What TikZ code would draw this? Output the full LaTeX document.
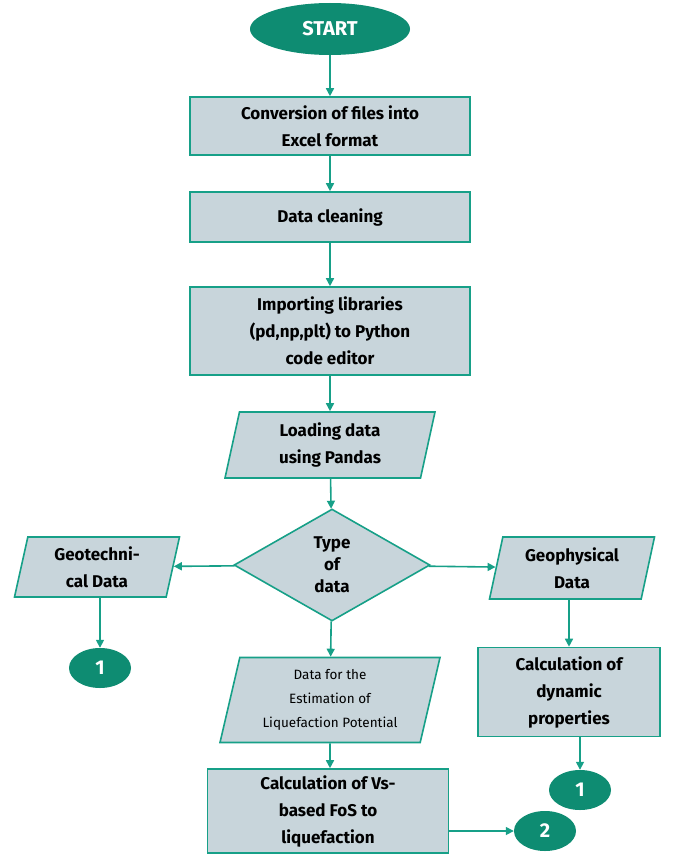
\documentclass[tikz,border=0pt]{standalone}
\usepackage{fontspec}
\setmainfont{Fira Sans}
\usetikzlibrary{shapes.geometric,arrows.meta}
\definecolor{tl}{HTML}{17A088}
\definecolor{dk}{HTML}{0E8C72}
\definecolor{bx}{HTML}{C8D5DB}
\begin{document}
\begin{tikzpicture}[x=1pt,y=-1pt,
  box/.style={draw=tl,line width=1.6pt,fill=bx,align=center,font=\fontsize{17}{27}\selectfont\bfseries,inner sep=0pt},
  para/.style={box,trapezium,trapezium left angle=72,trapezium right angle=108,trapezium stretches body},
  term/.style={ellipse,fill=dk,text=white,font=\fontsize{20}{24}\selectfont\bfseries,inner sep=0pt},
  arr/.style={draw=tl,line width=1.6pt,-{Triangle[length=8pt,width=8pt]}}]
\useasboundingbox (0,0) rectangle (685,859);
\node[term,minimum width=160pt,minimum height=52pt] (s) at (330,29) {START};
\node[box,minimum width=280pt,minimum height=58pt] (b1) at (330,126) {Conversion of files into\\Excel format};
\node[box,minimum width=280pt,minimum height=50pt] (b2) at (330,217) {Data cleaning};
\node[box,minimum width=280pt,minimum height=88pt] (b3) at (330,331) {Importing libraries\\(pd,np,plt) to Python\\code editor};
\node[para,minimum width=210pt,minimum height=66pt] (p4) at (330,445) {Loading data\\using Pandas};
\node[box,diamond,aspect=1.75,minimum width=196pt,minimum height=112pt,font=\fontsize{17}{22}\selectfont\bfseries] (d) at (332,565) {Type\\of\\data};
\node[para,minimum width=165pt,minimum height=60pt] (pl) at (97,567) {Geotechni-\\cal Data};
\node[term,minimum width=62pt,minimum height=40pt] (c1) at (100,668) {1};
\node[para,minimum width=165pt,minimum height=62pt] (pr) at (572,568) {Geophysical\\Data};
\node[box,minimum width=182pt,minimum height=89pt] (br) at (569,692) {Calculation of\\dynamic\\properties};
\node[term,minimum width=62pt,minimum height=40pt] (c2) at (580,790) {1};
\node[para,minimum width=220pt,minimum height=85pt,font=\fontsize{13.5}{24}\selectfont] (pm) at (330,700) {Data for the\\Estimation of\\Liquefaction Potential};
\node[box,minimum width=241pt,minimum height=84pt] (bb) at (328,811) {Calculation of Vs-\\based FoS to\\liquefaction};
\node[term,minimum width=62pt,minimum height=40pt] (c3) at (545,831) {2};
\draw[arr] (s) -- (b1);
\draw[arr] (b1) -- (b2);
\draw[arr] (b2) -- (b3);
\draw[arr] (b3) -- (p4);
\draw[arr] (p4) -- (d);
\draw[arr] (d) -- (pl);
\draw[arr] (d) -- (pr);
\draw[arr] (d) -- (pm);
\draw[arr] (pm) -- (pm|-bb.north);
\draw[arr] (pl.south-|c1) -- (c1);
\draw[arr] (pr.south-|br) -- (br);
\draw[arr] (br.south-|c2) -- (c2);
\draw[arr] (bb.east|-c3) -- (c3);
\end{tikzpicture}
\end{document}
